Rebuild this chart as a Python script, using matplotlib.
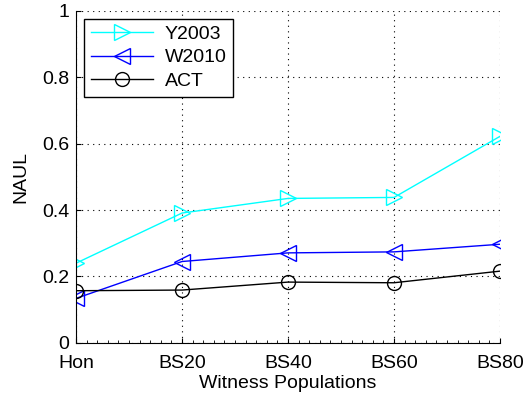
import numpy as np
import matplotlib
matplotlib.use('Agg')
import matplotlib.pyplot as plt
from matplotlib.ticker import MultipleLocator

plt.rcParams['font.family'] = ['Liberation Sans', 'DejaVu Sans']

# datos
cats = ['Hon', 'BS20', 'BS40', 'BS60', 'BS80']
y2003 = [0.240, 0.391, 0.435, 0.438, 0.622]
w2010 = [0.134, 0.245, 0.271, 0.274, 0.297]
act = [0.157, 0.159, 0.183, 0.181, 0.216]

fig = plt.figure(figsize=(5.28, 4.01), dpi=100)
ax = fig.add_axes([0.144, 0.145, 0.803, 0.828])
x = np.arange(len(cats))

ax.plot(x, y2003, color='cyan', marker='>', markersize=11, markerfacecolor='none',
        linewidth=1, label='Y2003')
ax.plot(x, w2010, color='blue', marker='<', markersize=11, markerfacecolor='none',
        linewidth=1, label='W2010')
ax.plot(x, act, color='black', marker='o', markersize=10, markerfacecolor='none',
        linewidth=1, label='ACT')

ax.set_xlim(0, 4)
ax.set_ylim(0, 1)
ax.set_xticks(x)
ax.set_xticklabels(cats)
ax.xaxis.set_minor_locator(MultipleLocator(0.1))
ax.set_yticks([0, 0.2, 0.4, 0.6, 0.8, 1])
ax.set_yticklabels(['0', '0.2', '0.4', '0.6', '0.8', '1'])
ax.tick_params(which='both', direction='in', labelsize=14, top=False, right=False)
ax.tick_params(axis='x', which='major', pad=9)
ax.tick_params(axis='y', which='major', pad=5)
ax.tick_params(which='minor', length=2)
ax.grid(True, linestyle=(0, (1, 4)), color='black', linewidth=0.8)
for s in ['top', 'right']:
    ax.spines[s].set_visible(False)

ax.set_xlabel('Witness Populations', fontsize=14, labelpad=2)
ax.set_ylabel('NAUL', fontsize=14, labelpad=9)

leg = ax.legend(loc='upper left', fontsize=14, fancybox=False, framealpha=1,
                edgecolor='black', handlelength=3.2, borderaxespad=0.4,
                labelspacing=0.3, borderpad=0.35, handletextpad=0.6)
leg.get_frame().set_linewidth(1)

fig.savefig('out.png', dpi=100)
